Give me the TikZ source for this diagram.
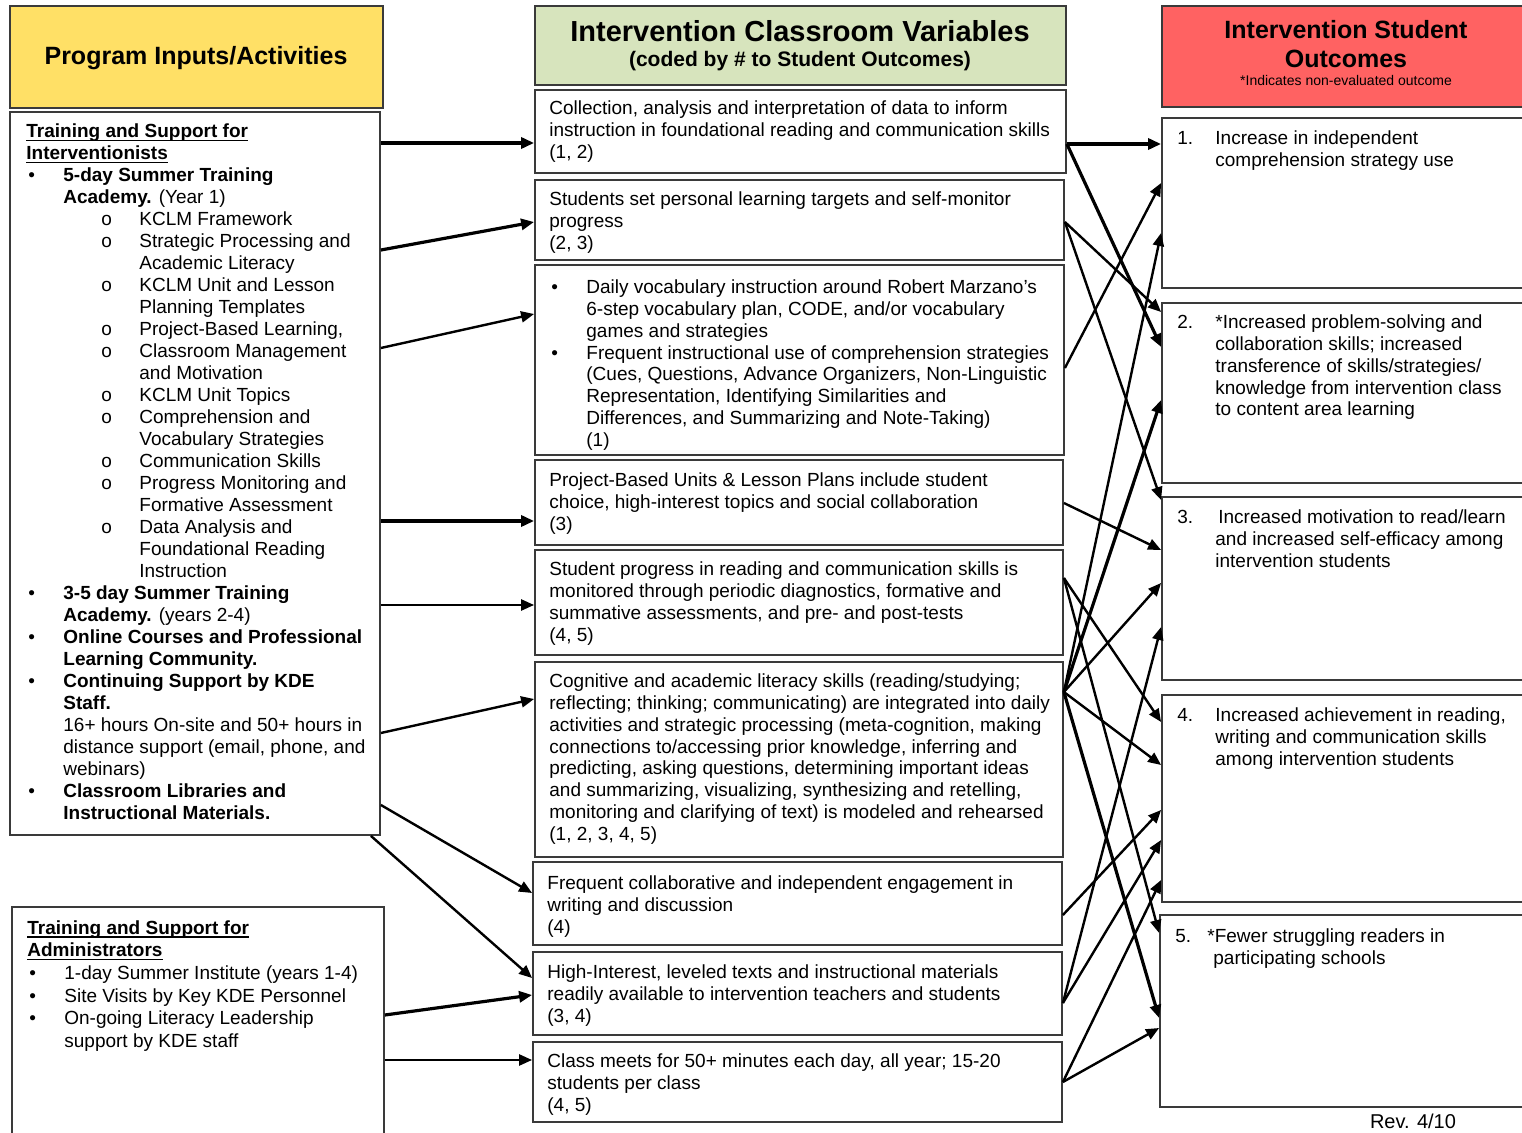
\documentclass[tikz,border=0pt]{standalone}
\usepackage{fontspec}
\setmainfont{Liberation Sans}
\usetikzlibrary{arrows.meta,calc,fit}

\definecolor{hdryellow}{HTML}{FFE066}
\definecolor{hdrgreen}{HTML}{D7E4BD}
\definecolor{hdrred}{HTML}{FF6262}
\definecolor{edge}{HTML}{3A3A3A}

% list helpers: bullet / continuation / sub-item / sub-continuation
\newcommand\lbul[1]{\hspace*{1pt}\makebox[17.5pt][l]{\textbullet}#1}
\newcommand\lcont[1]{\hspace*{18.5pt}#1}
\newcommand\lsub[1]{\hspace*{37.5pt}\makebox[19pt][l]{o}#1}
\newcommand\lsubc[1]{\hspace*{56.5pt}#1}
% numbered outcome line and its continuation
\newcommand\rnum[2]{\makebox[19pt][l]{#1}#2}
\newcommand\rcont[1]{\hspace*{19pt}#1}
% bold underlined heading
\newsavebox\ulbox
\newcommand\ulbf[1]{\sbox\ulbox{\bfseries #1}\rlap{\rule[-1.8pt]{\wd\ulbox}{0.7pt}}\usebox\ulbox}

\begin{document}
\begin{tikzpicture}[x=0.5pt,y=-0.5pt,
  box/.style={draw=edge, line width=0.9pt, fill=white, inner sep=0pt},
  hdr/.style={draw=edge, line width=1.1pt, inner sep=0pt},
  txt/.style={anchor=north west, inner sep=0pt, align=left, font=\fontsize{9.5}{10.9}\selectfont},
  ltxt/.style={txt, font=\fontsize{9.5}{11}\selectfont},
  arr/.style={line width=1.2pt, -{Triangle[length=6.5pt,width=5.5pt]}},
  thk/.style={line width=1.6pt}]

\useasboundingbox (0,0) rectangle (1522,1133);
\fill[white] (0,0) rectangle (1522,1133);

% ---------- column headers ----------
\node[hdr, fill=hdryellow, fit={(10,6) (383,108)}] (hL) {};
\node[font=\fontsize{12.5}{14}\selectfont\bfseries] (hLt) at (196,58) {Program Inputs/Activities};

\node[hdr, fill=hdrgreen, fit={(535,6) (1066,85)}] (hM) {};
\node[font=\fontsize{14.5}{16}\selectfont\bfseries] (hMt) at (800,31) {Intervention Classroom Variables};
\node[font=\fontsize{10.5}{12}\selectfont\bfseries] (hMs) at (800,61) {(coded by \# to Student Outcomes)};

\node[hdr, fill=hdrred, fit={(1162,6) (1535,107)}] (hR) {};
\node[font=\fontsize{12.5}{14.5}\selectfont\bfseries, align=center] (hRt) at (1346,44) {Intervention Student\\Outcomes};
\node[font=\fontsize{7}{8}\selectfont] (hRs) at (1346,81) {*Indicates non-evaluated outcome};

% ---------- program inputs ----------
\node[box, fit={(10,112) (380,835)}] (l1) {};
\node[ltxt] (l1t) at (26,122) {%
\strut\ulbf{Training and Support for}\\
\ulbf{Interventionists}\\
\lbul{\textbf{5-day Summer Training}}\\
\lcont{\textbf{Academy.} (Year 1)}\\
\lsub{KCLM Framework}\\
\lsub{Strategic Processing and}\\
\lsubc{Academic Literacy}\\
\lsub{KCLM Unit and Lesson}\\
\lsubc{Planning Templates}\\
\lsub{Project-Based Learning,}\\
\lsub{Classroom Management}\\
\lsubc{and Motivation}\\
\lsub{KCLM Unit Topics}\\
\lsub{Comprehension and}\\
\lsubc{Vocabulary Strategies}\\
\lsub{Communication Skills}\\
\lsub{Progress Monitoring and}\\
\lsubc{Formative Assessment}\\
\lsub{Data Analysis and}\\
\lsubc{Foundational Reading}\\
\lsubc{Instruction}\\
\lbul{\textbf{3-5 day Summer Training}}\\
\lcont{\textbf{Academy.} (years 2-4)}\\
\lbul{\textbf{Online Courses and Professional}}\\
\lcont{\textbf{Learning Community.}}\\
\lbul{\textbf{Continuing Support by KDE}}\\
\lcont{\textbf{Staff.}}\\
\lcont{16+ hours On-site and 50+ hours in}\\
\lcont{distance support (email, phone, and}\\
\lcont{webinars)}\\
\lbul{\textbf{Classroom Libraries and}}\\
\lcont{\textbf{Instructional Materials.}}};

\node[box, fit={(12,907) (384,1140)}] (l2) {};
\node[txt, font=\fontsize{9.5}{11.3}\selectfont] (l2t) at (27,918) {%
\strut\ulbf{Training and Support for}\\
\ulbf{Administrators}\\
\lbul{1-day Summer Institute (years 1-4)}\\
\lbul{Site Visits by Key KDE Personnel}\\
\lbul{On-going Literacy Leadership}\\
\lcont{support by KDE staff}};

% ---------- classroom variables ----------
\node[box, fit={(535,90) (1066,173)}] (m1) {};
\node[txt] (m1t) at (549,99) {\strut Collection, analysis and interpretation of data to inform\\
instruction in foundational reading and communication skills\\(1, 2)};

\node[box, fit={(535,180) (1064,260)}] (m2) {};
\node[txt] (m2t) at (549,190) {\strut Students set personal learning targets and self-monitor\\progress\\(2, 3)};

\node[box, fit={(535,265) (1064,455)}] (m3) {};
\node[txt] (m3t) at (549,278) {%
\strut\lbul{Daily vocabulary instruction around Robert Marzano's}\\
\lcont{6-step vocabulary plan, CODE, and/or vocabulary}\\
\lcont{games and strategies}\\
\lbul{Frequent instructional use of comprehension strategies}\\
\lcont{(Cues, Questions, Advance Organizers, Non-Linguistic}\\
\lcont{Representation, Identifying Similarities and}\\
\lcont{Differences, and Summarizing and Note-Taking)}\\
\lcont{(1)}};

\node[box, fit={(535,460) (1063,545)}] (m4) {};
\node[txt] (m4t) at (549,471) {\strut Project-Based Units \& Lesson Plans include student\\
choice, high-interest topics and social collaboration\\(3)};

\node[box, fit={(535,550) (1063,655)}] (m5) {};
\node[txt] (m5t) at (549,560) {\strut Student progress in reading and communication skills is\\
monitored through periodic diagnostics, formative and\\
summative assessments, and pre- and post-tests\\(4, 5)};

\node[box, fit={(535,662) (1063,857)}] (m6) {};
\node[txt] (m6t) at (549,672) {\strut Cognitive and academic literacy skills (reading/studying;\\
reflecting; thinking; communicating) are integrated into daily\\
activities and strategic processing (meta-cognition, making\\
connections to/accessing prior knowledge, inferring and\\
predicting, asking questions, determining important ideas\\
and summarizing, visualizing, synthesizing and retelling,\\
monitoring and clarifying of text) is modeled and rehearsed\\
(1, 2, 3, 4, 5)};

\node[box, fit={(533,862) (1062,945)}] (m7) {};
\node[txt] (m7t) at (547,874) {\strut Frequent collaborative and independent engagement in\\
writing and discussion\\(4)};

\node[box, fit={(533,952) (1062,1035)}] (m8) {};
\node[txt] (m8t) at (547,963) {\strut High-Interest, leveled texts and instructional materials\\
readily available to intervention teachers and students\\(3, 4)};

\node[box, fit={(533,1042) (1062,1122)}] (m9) {};
\node[txt] (m9t) at (547,1052) {\strut Class meets for 50+ minutes each day, all year; 15-20\\
students per class\\(4, 5)};

% ---------- student outcomes ----------
\node[box, fit={(1162,118) (1535,288)}] (r1) {};
\node[txt] (r1t) at (1177,129) {\strut\rnum{1.}{Increase in independent}\\
\rcont{comprehension strategy use}};

\node[box, fit={(1162,303) (1535,483)}] (r2) {};
\node[txt] (r2t) at (1177,313) {\strut\rnum{2.}{*Increased problem-solving and}\\
\rcont{collaboration skills; increased}\\
\rcont{transference of skills/strategies/}\\
\rcont{knowledge from intervention class}\\
\rcont{to content area learning}};

\node[box, fit={(1162,497) (1535,680)}] (r3) {};
\node[txt] (r3t) at (1177,508) {\strut\makebox[20.5pt][l]{3.}Increased motivation to read/learn\\
\rcont{and increased self-efficacy among}\\
\rcont{intervention students}};

\node[box, fit={(1162,695) (1535,902)}] (r4) {};
\node[txt] (r4t) at (1177,706) {\strut\rnum{4.}{Increased achievement in reading,}\\
\rcont{writing and communication skills}\\
\rcont{among intervention students}};

\node[box, fit={(1160,915) (1535,1107)}] (r5) {};
\node[txt] (r5t) at (1175,927) {\strut\makebox[16pt][l]{5.}*Fewer struggling readers in\\
\rcont{participating schools}};

\node[font=\fontsize{10}{12}\selectfont] (rev) at (1413,1121) {Rev. 4/10};

% ---------- inputs to classroom variables ----------
\draw[arr, thk] (l1.east |- 0,143) -- (m1.west |- 0,143);
\draw[arr, thk] (l1.east |- 0,250) -- (m2.west |- 0,222);
\draw[arr] (l1.east |- 0,348) -- (m3.west |- 0,314);
\draw[arr, thk] (l1.east |- 0,521) -- (m4.west |- 0,521);
\draw[arr] (l1.east |- 0,605) -- (m5.west |- 0,605);
\draw[arr] (l1.east |- 0,733) -- (m6.west |- 0,699);
\draw[arr] (l1.east |- 0,805) -- (m7.west |- 0,893);
\draw[arr] ($(l1.south east)+(-10,0)$) -- (m8.west |- 0,978);
\draw[arr, thk] (l2.east |- 0,1015) -- (m8.west |- 0,995);
\draw[arr] (l2.east |- 0,1060) -- (m9.west |- 0,1060);

% ---------- classroom variables to outcomes ----------
\draw[arr, thk] (m1.east |- 0,144) -- (r1.west |- 0,144);
\draw[arr, thk] (m1.east |- 0,144) -- (r2.west |- 0,347);
\draw[arr] (m2.east |- 0,222) -- (r2.west |- 0,312);
\draw[arr] (m2.east |- 0,222) -- (r3.west |- 0,500);
\draw[arr] (m3.east |- 0,368) -- (r1.west |- 0,183);
\draw[arr] (m4.east |- 0,503) -- (r3.west |- 0,550);
\draw[arr] (m5.east |- 0,578) -- (r4.west |- 0,722);
\draw[arr] (m5.east |- 0,578) -- (r5.west |- 0,933);
\draw[arr] (m6.east |- 0,692) -- (r1.west |- 0,233);
\draw[arr, thk] (m6.east |- 0,692) -- (r2.west |- 0,400);
\draw[arr] (m6.east |- 0,692) -- (r3.west |- 0,583);
\draw[arr] (m6.east |- 0,692) -- (r4.west |- 0,765);
\draw[arr, thk] (m6.east |- 0,692) -- (r5.west |- 0,1018);
\draw[arr] (m7.east |- 0,915) -- (r4.west |- 0,810);
\draw[arr] (m8.east |- 0,1003) -- (r3.west |- 0,627);
\draw[arr] (m8.east |- 0,1003) -- (r4.west |- 0,840);
\draw[arr] (m9.east |- 0,1082) -- (r4.west |- 0,880);
\draw[arr] (m9.east |- 0,1082) -- (r5.west |- 0,1028);
\end{tikzpicture}
\end{document}
